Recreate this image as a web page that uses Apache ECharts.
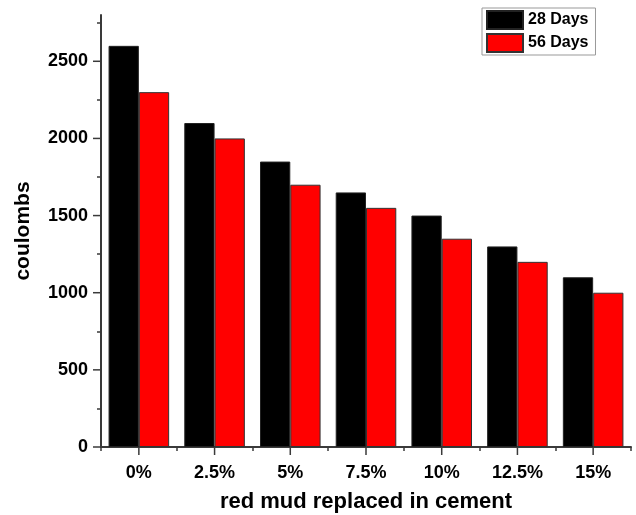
<!DOCTYPE html>
<html>
<head>
<meta charset="utf-8">
<script src="https://cdn.jsdelivr.net/npm/echarts@6/dist/echarts.min.js"></script>
<style>
  html, body { margin: 0; padding: 0; background: #fff; }
  #chart { width: 636px; height: 515px; }
</style>
</head>
<body>
<div id="chart"></div>
<script>
// Red mud replacement levels
const categories = ['0%', '2.5%', '5%', '7.5%', '10%', '12.5%', '15%'];
// Charge passed (coulombs)
const days28 = [2600, 2100, 1850, 1650, 1500, 1300, 1100];
const days56 = [2300, 2000, 1700, 1550, 1350, 1200, 1000];
// Y axis ticks
const majorTicks = [0, 500, 1000, 1500, 2000, 2500];
const minorTicks = [250, 750, 1250, 1750, 2250, 2750];
const yMax = 2800;

const FONT = 'Liberation Sans, Arial, sans-serif';
const AXIS_COLOR = '#3a3a3a';
const MAJOR_LEN = 8;

const chart = echarts.init(document.getElementById('chart'));
chart.setOption({
  animation: false,
  textStyle: { fontFamily: FONT },
  grid: { left: 101, right: 5, top: 15, bottom: 68, containLabel: false, outerBoundsMode: 'none' },
  legend: {
    orient: 'vertical',
    left: 482,
    top: 8,
    padding: [2, 7, 2, 4],
    itemGap: 3,
    itemWidth: 36,
    itemHeight: 18,
    icon: 'rect',
    borderColor: '#999',
    borderWidth: 1,
    textStyle: { fontFamily: FONT, fontWeight: 'bold', fontSize: 16, color: '#000' },
    data: ['28 Days', '56 Days']
  },
  xAxis: {
    type: 'category',
    data: categories,
    axisLine: { show: true, lineStyle: { color: AXIS_COLOR, width: 2 } },
    axisTick: { show: true, length: 4, lineStyle: { color: AXIS_COLOR, width: 1.5 } },
    axisLabel: { fontFamily: FONT, fontWeight: 'bold', fontSize: 18, color: '#000', margin: 17 },
    name: 'red mud replaced in cement',
    nameLocation: 'middle',
    nameGap: 44,
    nameMoveOverlap: false,
    nameTextStyle: { fontFamily: FONT, fontWeight: 'bold', fontSize: 22, color: '#000' }
  },
  yAxis: {
    type: 'value',
    min: 0,
    max: yMax,
    axisLine: { show: true, lineStyle: { color: AXIS_COLOR, width: 2 } },
    axisTick: { show: true, length: 4, customValues: minorTicks, lineStyle: { color: AXIS_COLOR, width: 1.5 } },
    axisLabel: {
      customValues: majorTicks,
      formatter: v => String(v),
      fontFamily: FONT, fontWeight: 'bold', fontSize: 18, color: '#000', margin: 13
    },
    splitLine: { show: false },
    name: 'coulombs',
    nameLocation: 'middle',
    nameGap: 67,
    nameMoveOverlap: false,
    nameTextStyle: { fontFamily: FONT, fontWeight: 'bold', fontSize: 21, color: '#000' }
  },
  series: [
    {
      name: '28 Days',
      type: 'bar',
      data: days28,
      barGap: '0%',
      barCategoryGap: '20%',
      itemStyle: { color: '#000', borderColor: '#222', borderWidth: 1 }
    },
    {
      name: '56 Days',
      type: 'bar',
      data: days56,
      barGap: '0%',
      barCategoryGap: '20%',
      itemStyle: { color: '#ff0000', borderColor: '#333', borderWidth: 1 }
    }
  ]
});

// Long outward ticks at the labelled values, placed through the grid's scales
const toPx = (i, v) => chart.convertToPixel({ gridIndex: 0 }, [i, v]);
const p0 = toPx(0, 0);
const p1 = toPx(1, 0);
const axisX = p0[0] - (p1[0] - p0[0]) / 2;
const axisY = p0[1];
const tickLines = [];
majorTicks.forEach(v => {
  const y = toPx(0, v)[1];
  tickLines.push({
    type: 'line', z: 100, silent: true,
    shape: { x1: axisX - MAJOR_LEN, y1: y, x2: axisX, y2: y },
    style: { stroke: AXIS_COLOR, lineWidth: 1.5 }
  });
});
categories.forEach((c, i) => {
  const x = toPx(i, 0)[0];
  tickLines.push({
    type: 'line', z: 100, silent: true,
    shape: { x1: x, y1: axisY, x2: x, y2: axisY + MAJOR_LEN },
    style: { stroke: AXIS_COLOR, lineWidth: 1.5 }
  });
});
chart.setOption({ graphic: tickLines });
</script>
</body>
</html>
